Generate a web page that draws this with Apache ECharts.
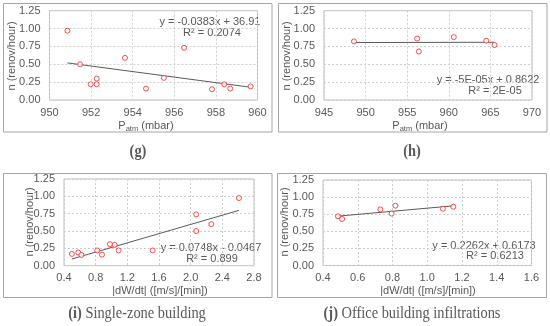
<!DOCTYPE html>
<html><head><meta charset="utf-8">
<script src="https://cdn.jsdelivr.net/npm/echarts@6/dist/echarts.min.js"></script>
<style>html,body{margin:0;padding:0;background:#fff}#c{width:550px;height:326px}</style>
</head><body><div id="c"></div>
<script>
// Panel (g): n vs P_atm
var gX = [950.86, 951.47, 951.98, 952.27, 952.27, 953.63, 954.64, 955.50, 956.47, 957.81, 958.40, 958.69, 959.67];
var gY = [0.97, 0.50, 0.22, 0.30, 0.22, 0.59, 0.16, 0.31, 0.73, 0.15, 0.22, 0.16, 0.19];
// Panel (h)
var hX = [948.6, 956.2, 956.4, 960.6, 964.5, 965.5];
var hY = [0.82, 0.86, 0.68, 0.88, 0.83, 0.77];
// Panel (i)
var iX = [0.50, 0.58, 0.62, 0.82, 0.88, 0.98, 1.04, 1.09, 1.52, 2.07, 2.07, 2.26, 2.61];
var iY = [0.17, 0.19, 0.155, 0.22, 0.16, 0.31, 0.30, 0.22, 0.22, 0.74, 0.50, 0.60, 0.975];
// Panel (j)
var jX = [0.486, 0.51, 0.73, 0.795, 0.817, 1.09, 1.15];
var jY = [0.72, 0.68, 0.82, 0.76, 0.875, 0.83, 0.86];

var eqG = ['y = -0.0383x + 36.91', 'R² = 0.2074'];
var eqH = ['y = -5E-05x + 0.8622', 'R² = 2E-05'];
var eqI = ['y = 0.0748x - 0.0467', 'R² = 0.899'];
var eqJ = ['y = 0.2262x + 0.6173', 'R² = 0.6213'];

var yTitle = 'n (renov/hour)';
var xTitleP = '{n|P}{s|atm}{n| (mbar)}';
var xTitleW = '|dW/dt| ([m/s]/[min])';
var captions = ['{b|(g)}', '{b|(h)}', '{b|(i)}{n| Single-zone building}', '{b|(j)}{n| Office building infiltrations}'];

var FONT = '"Liberation Sans Narrow", "Liberation Sans", sans-serif';
var TXT = '#595959';

function pairs(xs, ys) { return xs.map(function (x, k) { return [x, ys[k]]; }); }
function trend(xs, ys) {
  var n = xs.length, sx = 0, sy = 0, sxx = 0, sxy = 0;
  for (var k = 0; k < n; k++) { sx += xs[k]; sy += ys[k]; sxx += xs[k] * xs[k]; sxy += xs[k] * ys[k]; }
  var b = (n * sxy - sx * sy) / (n * sxx - sx * sx), a = (sy - b * sx) / n;
  var x0 = Math.min.apply(null, xs), x1 = Math.max.apply(null, xs);
  return [[x0, a + b * x0], [x1, a + b * x1]];
}

var grids = [
  {left: 49.5, top: 10.7, width: 208, height: 89.3},
  {left: 324, top: 10.7, width: 208, height: 89.3},
  {left: 64, top: 179, width: 190, height: 86.7},
  {left: 323, top: 180, width: 208.5, height: 85.5}
];
var xCfg = [
  {min: 950, max: 960, interval: 2, dec: 0},
  {min: 945, max: 970, interval: 5, dec: 0},
  {min: 0.4, max: 2.8, interval: 0.4, dec: 1},
  {min: 0.4, max: 1.6, interval: 0.2, dec: 1}
];
var grid = grids.map(function (g) { return Object.assign({show: true, borderColor: '#bfbfbf', borderWidth: 1, containLabel: false}, g); });
var split = {show: true, lineStyle: {color: '#cfcfcf', type: [2, 2], width: 1}};
var xAxis = xCfg.map(function (c, k) {
  return {type: 'value', gridIndex: k, min: c.min, max: c.max, interval: c.interval,
    axisLine: {show: false}, axisTick: {show: false}, splitLine: split,
    axisLabel: {color: TXT, fontFamily: FONT, fontSize: 11, margin: 7,
      formatter: (function (d) { return function (v) { return v.toFixed(d); }; })(c.dec)}};
});
var yAxis = grids.map(function (g, k) {
  return {type: 'value', gridIndex: k, min: 0, max: 1.25, interval: 0.25,
    axisLine: {show: false}, axisTick: {show: false}, splitLine: split,
    axisLabel: {color: TXT, fontFamily: FONT, fontSize: 11, margin: 9, formatter: function (v) { return v.toFixed(2); }}};
});
var sets = [[gX, gY], [hX, hY], [iX, iY], [jX, jY]];
var series = [];
sets.forEach(function (s, k) {
  series.push({type: 'line', xAxisIndex: k, yAxisIndex: k, data: trend(s[0], s[1]), showSymbol: false,
    lineStyle: {color: '#595959', width: 1}, silent: true, z: 2});
  series.push({type: 'scatter', xAxisIndex: k, yAxisIndex: k, data: pairs(s[0], s[1]), symbol: 'circle', symbolSize: 5,
    itemStyle: {color: '#ffffff', borderColor: '#ff2020', borderWidth: 1}, z: 3});
});

function txt(x, y, text, opt) {
  return Object.assign({type: 'text', x: x, y: y, style: {text: text, font: '11px ' + FONT, fill: TXT, align: 'center', verticalAlign: 'middle'}}, opt || {});
}
function rtxt(x, y, text, rich) {
  return {type: 'text', x: x, y: y, style: {text: text, rich: rich, fill: TXT, align: 'center', verticalAlign: 'middle'}};
}
var richP = {n: {fontFamily: FONT, fontSize: 11, color: TXT}, s: {fontFamily: FONT, fontSize: 7.5, color: TXT, verticalAlign: 'bottom', padding: [6, 0, 0, 0]}};
var richCap = {b: {fontFamily: '"Liberation Serif", serif', fontSize: 16, fontWeight: 'bold', color: '#000'}, n: {fontFamily: '"Liberation Serif", serif', fontSize: 16, color: '#000'}};
function frame(x, y, w, h) { return {type: 'rect', shape: {x: x, y: y, width: w, height: h}, style: {fill: null, stroke: '#a6a6a6', lineWidth: 1}, silent: true}; }
function vtxt(x, y, text) { return {type: 'text', x: x, y: y, rotation: Math.PI / 2, style: {text: text, font: '11px ' + FONT, fill: TXT, align: 'center', verticalAlign: 'middle'}}; }
function cap(x, y, text) { return {type: 'group', x: x, y: y, scaleX: 0.9, children: [rtxt(0, 0, text, richCap)]}; }

var graphic = [
  frame(3.5, 3.5, 268.5, 128.5), frame(278.5, 3.5, 268.5, 128.5),
  frame(3.5, 173.5, 268.5, 124), frame(277.5, 173.5, 269, 124),
  vtxt(12, 56, yTitle), vtxt(287, 56, yTitle), vtxt(30, 222, yTitle), vtxt(285, 222, yTitle),
  rtxt(146, 126, xTitleP, richP), rtxt(420, 126, xTitleP, richP),
  txt(160, 291, xTitleW), txt(428, 291, xTitleW),
  txt(210, 22, eqG[0]), txt(212, 33, eqG[1]),
  txt(488, 80, eqH[0]), txt(495, 91, eqH[1]),
  txt(211, 248, eqI[0]), txt(212, 258.5, eqI[1]),
  txt(484, 246, eqJ[0]), txt(495, 256, eqJ[1]),
  cap(138, 152, captions[0]), cap(412, 152, captions[1]),
  cap(137, 314, captions[2]), cap(412, 314, captions[3])
];

var chart = echarts.init(document.getElementById('c'), null, {renderer: 'canvas'});
chart.setOption({animation: false, grid: grid, xAxis: xAxis, yAxis: yAxis, series: series, graphic: graphic});
</script></body></html>
